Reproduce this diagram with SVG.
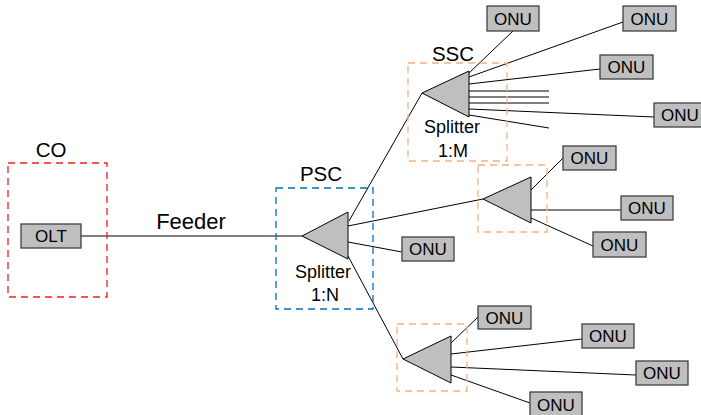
<svg xmlns="http://www.w3.org/2000/svg" width="701" height="415" viewBox="0 0 701 415">
<style>
text{font-family:"Liberation Sans",Arial,sans-serif;fill:#000}
.onu rect,.olt rect{fill:#bfbfbf;stroke:#404040;stroke-width:1.3}
.onu text,.olt text{font-size:17px;text-anchor:middle}
.tri{fill:#bfbfbf;stroke:#000;stroke-width:1}
.ln{stroke:#000;stroke-width:1;fill:none}
.lbl{font-size:20.5px;text-anchor:middle}
.sp{font-size:18px;text-anchor:middle}
.box{fill:none;stroke-width:1.3;stroke-dasharray:7,5}
</style>
<rect width="701" height="415" fill="#fff"/>
<g id="connectors" class="ln">
<line x1="81" y1="236" x2="302" y2="236"/>
<line x1="349" y1="221" x2="422" y2="93"/>
<line x1="348" y1="226" x2="483" y2="199"/>
<line x1="348" y1="242" x2="402" y2="252"/>
<line x1="348" y1="256" x2="403" y2="359"/>
<line x1="469" y1="73" x2="513" y2="31"/>
<line x1="469" y1="77" x2="623" y2="22"/>
<line x1="469" y1="84" x2="600" y2="69"/>
<line x1="469" y1="91" x2="549" y2="91"/>
<line x1="469" y1="97" x2="549" y2="97"/>
<line x1="469" y1="103" x2="549" y2="103"/>
<line x1="469" y1="109" x2="654" y2="117"/>
<line x1="469" y1="115" x2="549" y2="128"/>
<line x1="531" y1="190" x2="563" y2="158"/>
<line x1="531" y1="210" x2="621" y2="210"/>
<line x1="531" y1="218" x2="593" y2="246"/>
<line x1="451" y1="343" x2="478" y2="317"/>
<line x1="451" y1="354" x2="582" y2="339"/>
<line x1="451" y1="367" x2="636" y2="375"/>
<line x1="451" y1="375" x2="530" y2="403"/>
</g>
<g id="co">
<rect class="box" x="8" y="163" width="99" height="134" stroke="#ff1a1a"/>
<text class="lbl" x="51" y="157">CO</text>
</g>
<g id="olt" class="olt">
<rect x="21" y="224" width="60" height="24"/>
<text x="51" y="242">OLT</text>
</g>
<text id="feeder" x="191" y="229" font-size="22" text-anchor="middle">Feeder</text>
<g id="psc">
<rect class="box" x="276" y="188" width="97" height="121" stroke="#0070c0"/>
<text class="lbl" x="321" y="181">PSC</text>
<polygon class="tri" points="302,236 348,212 348,259"/>
<text class="sp" x="323" y="278">Splitter</text>
<text class="sp" x="325" y="301">1:N</text>
</g>
<g id="ssc">
<rect class="box" x="408" y="63" width="99" height="98" stroke="#f4b183"/>
<text class="lbl" x="453" y="61">SSC</text>
<polygon class="tri" points="422,93 469,71 469,117"/>
<text class="sp" x="452" y="133">Splitter</text>
<text class="sp" x="453" y="157">1:M</text>
</g>
<g id="ssc2">
<rect class="box" x="478" y="165" width="69" height="67" stroke="#f4b183"/>
<polygon class="tri" points="483,199 531,177 531,223"/>
</g>
<g id="ssc3">
<rect class="box" x="397" y="324" width="70" height="67" stroke="#f4b183"/>
<polygon class="tri" points="403,359 451,336 451,383"/>
</g>
<g id="onu1" class="onu"><rect x="487" y="6" width="52" height="25"/><text x="513" y="25">ONU</text></g>
<g id="onu2" class="onu"><rect x="623" y="6" width="53" height="25"/><text x="649.5" y="25">ONU</text></g>
<g id="onu3" class="onu"><rect x="600" y="55" width="53" height="24"/><text x="626.5" y="73">ONU</text></g>
<g id="onu4" class="onu"><rect x="654" y="103" width="52" height="24"/><text x="680" y="121">ONU</text></g>
<g id="onu5" class="onu"><rect x="402" y="237" width="52" height="24"/><text x="428" y="255">ONU</text></g>
<g id="onu6" class="onu"><rect x="563" y="146" width="53" height="24"/><text x="589.5" y="164">ONU</text></g>
<g id="onu7" class="onu"><rect x="621" y="196" width="52" height="24"/><text x="647" y="214">ONU</text></g>
<g id="onu8" class="onu"><rect x="593" y="232" width="53" height="25"/><text x="619.5" y="251">ONU</text></g>
<g id="onu9" class="onu"><rect x="478" y="306" width="53" height="23"/><text x="504.5" y="324">ONU</text></g>
<g id="onu10" class="onu"><rect x="582" y="324" width="52" height="24"/><text x="608" y="342">ONU</text></g>
<g id="onu11" class="onu"><rect x="636" y="361" width="52" height="24"/><text x="662" y="379">ONU</text></g>
<g id="onu12" class="onu"><rect x="530" y="392" width="52" height="25"/><text x="556" y="411">ONU</text></g>
</svg>
